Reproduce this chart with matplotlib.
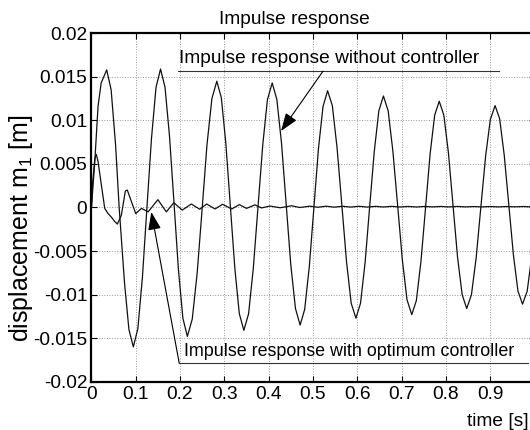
import numpy as np
import matplotlib
matplotlib.use("Agg")
import matplotlib.pyplot as plt

plt.rcParams['font.family'] = ['Liberation Sans', 'DejaVu Sans']
plt.rcParams['mathtext.fontset'] = 'custom'
plt.rcParams['mathtext.rm'] = 'Liberation Sans'
plt.rcParams['mathtext.it'] = 'Liberation Sans:italic'

# response without controller
t_free = [0, 0.0074, 0.0149, 0.022, 0.0345,
          0.0445, 0.0545, 0.0626, 0.0746, 0.0846, 0.0946,
          0.1048, 0.1151, 0.1253, 0.1355, 0.1458, 0.156,
          0.1661, 0.1762, 0.1863, 0.1963, 0.2064, 0.2165,
          0.2276, 0.2387, 0.2498, 0.2608, 0.2719, 0.283,
          0.2932, 0.3033, 0.3135, 0.3237, 0.3338, 0.344,
          0.3547, 0.3653, 0.376, 0.3867, 0.3973, 0.408,
          0.4185, 0.429, 0.4395, 0.45, 0.4605, 0.471,
          0.4813, 0.4917, 0.502, 0.5123, 0.5227, 0.533,
          0.5437, 0.5543, 0.565, 0.5757, 0.5863, 0.597,
          0.6073, 0.6177, 0.628, 0.6383, 0.6487, 0.659,
          0.6697, 0.6803, 0.691, 0.7017, 0.7123, 0.723,
          0.7333, 0.7437, 0.754, 0.7643, 0.7747, 0.785,
          0.7953, 0.8057, 0.816, 0.8263, 0.8367, 0.847,
          0.8577, 0.8683, 0.879, 0.8897, 0.9003, 0.911,
          0.9213, 0.9317, 0.942, 0.9523, 0.9627, 0.973,
          0.9835, 0.994, 1.0]
y_free = [0, 0.0051, 0.0116, 0.0143, 0.0158,
          0.0135, 0.0072, 0.0, -0.0086, -0.0140, -0.0160,
          -0.0139, -0.0080, 0.0, 0.0079, 0.0138, 0.0159,
          0.0138, 0.0082, 0.0006, -0.0071, -0.0127, -0.0148,
          -0.0128, -0.0075, -0.0002, 0.0072, 0.0125, 0.0145,
          0.0126, 0.0074, 0.0002, -0.0070, -0.0122, -0.0141,
          -0.0122, -0.0070, 0.0001, 0.0072, 0.0124, 0.0143,
          0.0124, 0.0074, 0.0004, -0.0066, -0.0116, -0.0135,
          -0.0117, -0.0068, -0.0001, 0.0067, 0.0116, 0.0134,
          0.0117, 0.0069, 0.0004, -0.0062, -0.0110, -0.0127,
          -0.0110, -0.0063, 0.0001, 0.0064, 0.0111, 0.0128,
          0.0111, 0.0065, 0.0003, -0.0060, -0.0106, -0.0123,
          -0.0107, -0.0062, -0.0001, 0.0061, 0.0106, 0.0122,
          0.0106, 0.0063, 0.0003, -0.0057, -0.0100, -0.0116,
          -0.0100, -0.0058, 0.0001, 0.0059, 0.0101, 0.0117,
          0.0102, 0.0060, 0.0003, -0.0054, -0.0096, -0.0111,
          -0.0096, -0.0055, -0.0028]

# response with optimum controller
t_ctrl = [0, 0.003, 0.0074, 0.011, 0.0149, 0.0224, 0.030, 0.0375, 0.045,
          0.0525, 0.0585, 0.0675, 0.0766, 0.081, 0.0887, 0.100, 0.113,
          0.128, 0.150, 0.169, 0.186, 0.205, 0.2255, 0.2444, 0.260, 0.279,
          0.296, 0.3166, 0.334, 0.350, 0.369, 0.384, 0.403, 0.426, 0.452,
          0.470, 0.493, 0.511, 0.530, 0.548, 0.567, 0.585, 0.604, 0.622,
          0.641, 0.659, 0.678, 0.696, 0.715, 0.733, 0.752, 0.770, 0.789,
          0.807, 0.826, 0.844, 0.863, 0.881, 0.900, 0.918, 0.937, 0.955,
          0.974, 0.992, 1.0]
y_ctrl = [0, 0.0030, 0.0055, 0.0061, 0.0053, 0.0026, -0.0001, -0.0007, -0.0011,
          -0.0016, -0.0019, -0.0009, 0.0019, 0.0020, 0.0009, -0.0007, -0.0001,
          -0.0005, 0.0009, -0.0005, 0.00055, -0.0003, 0.0004, -0.0002, 0.0004, -0.00017,
          0.00037, -0.00017, 0.00033, -0.0001, 0.0003, -0.00005, 0.00017, -0.00003, 0.0002,
          0.0, 0.00015, 0.00003, 0.00015, 0.00004, 0.00014, 0.00005, 0.00014, 0.00005,
          0.00013, 0.00006, 0.00013, 0.00006, 0.00012, 0.00006, 0.00012, 0.00007, 0.00012,
          0.00007, 0.00012, 0.00007, 0.00011, 0.00007, 0.00011, 0.00007, 0.00011, 0.00008,
          0.00011, 0.00008, 0.0001]

x_ticks = [0, 0.1, 0.2, 0.3, 0.4, 0.5, 0.6, 0.7, 0.8, 0.9, 1.0]
x_labels = ['0', '0.1', '0.2', '0.3', '0.4', '0.5', '0.6', '0.7', '0.8', '0.9', '1']
y_ticks = [-0.02, -0.015, -0.01, -0.005, 0, 0.005, 0.01, 0.015, 0.02]
y_labels = ['-0.02', '-0.015', '-0.01', '-0.005', '0', '0.005', '0.01', '0.015', '0.02']

fs = 13.8
fig = plt.figure(figsize=(5.3, 4.3), dpi=100)
ax = fig.add_axes([0.1725, 0.1123, 0.836, 0.8103])

ax.plot(t_free, y_free, color='#111111', lw=0.9)
ax.plot(t_ctrl, y_ctrl, color='#111111', lw=0.9)

ax.set_xlim(0, 1)
ax.set_ylim(-0.02, 0.02)
ax.set_xticks(x_ticks)
ax.set_xticklabels(x_labels, fontsize=fs)
ax.set_yticks(y_ticks)
ax.set_yticklabels(y_labels, fontsize=fs)
ax.tick_params(direction='in', length=4, width=0.8, top=True, right=True, pad=3)
ax.grid(True, linestyle=':', color='#999999', lw=0.7)
for s in ax.spines.values():
    s.set_linewidth(1.6)

# annotations
ax.text(0.1977, 0.01662, 'Impulse response without controller', fontsize=fs, va='baseline')
ax.plot([0.1963, 0.9199], [0.01565, 0.01565], color='#333333', lw=0.8)
ax.annotate('', xy=(0.428, 0.00878), xytext=(0.5227, 0.01565),
            arrowprops=dict(arrowstyle='-|>,head_length=1.1,head_width=0.4',
                            mutation_scale=10, color='k', lw=0.8,
                            shrinkA=0, shrinkB=0))

ax.text(0.2089, -0.01705, 'Impulse response with optimum controller', fontsize=12.9, va='baseline')
ax.plot([0.1982, 0.9847], [-0.01789, -0.01789], color='#333333', lw=0.8)
ax.annotate('', xy=(0.1352, -0.00052), xytext=(0.1982, -0.01789),
            arrowprops=dict(arrowstyle='-|>,head_length=1.1,head_width=0.4',
                            mutation_scale=10, color='k', lw=0.8,
                            shrinkA=0, shrinkB=0))

fig.text(0.5547, 0.944, 'Impulse response', fontsize=fs, ha='center', va='baseline')
fig.text(0.04, 0.47, r'displacement m$_\mathrm{1}$ [m]', fontsize=18,
         rotation=90, ha='center', va='center')
fig.text(0.998, 0.01, 'time [s]', fontsize=fs, ha='right', va='baseline')

fig.savefig('out.png', dpi=100)
